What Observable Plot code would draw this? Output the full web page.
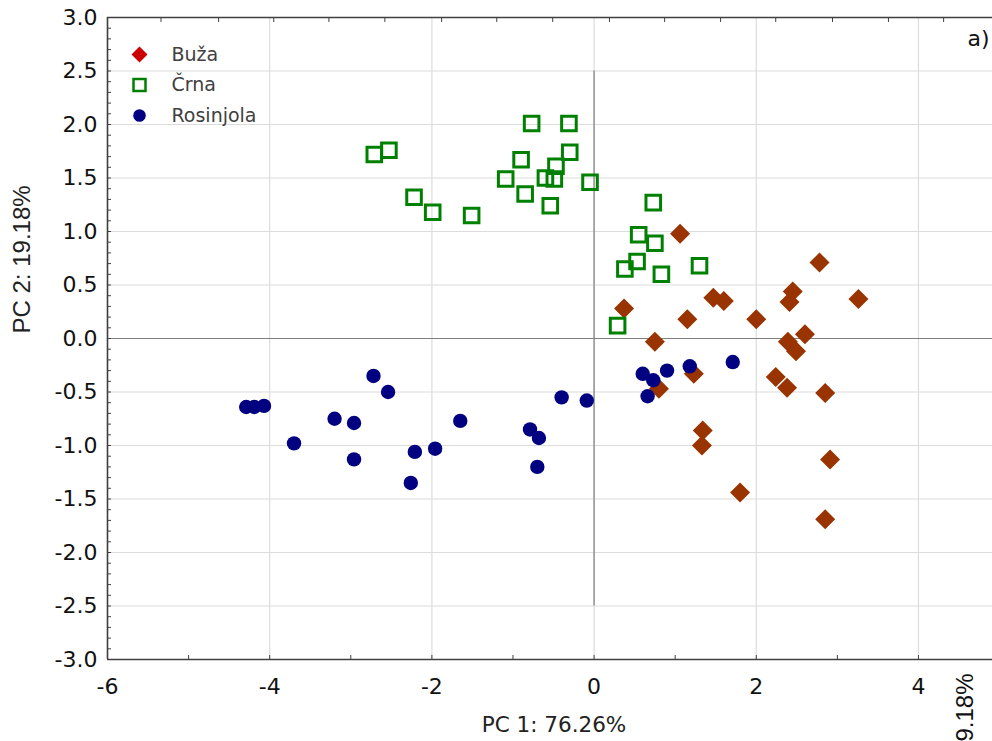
<!DOCTYPE html>
<html>
<head>
<meta charset="utf-8">
<script src="https://cdn.jsdelivr.net/npm/d3@7"></script>
<script src="https://cdn.jsdelivr.net/npm/@observablehq/plot@0.6"></script>
<style>
  html, body { margin: 0; padding: 0; background: #fff; overflow: hidden; }
  #chart svg { display: block; }
</style>
</head>
<body>
<div id="chart"></div>
<script>
// ---- data ----
const seriesNames = ["Buža", "Črna", "Rosinjola"];

const buzaPC1 = [1.06, 2.78, 2.45, 2.41, 3.26, 1.47, 1.60, 0.37, 1.15, 2.00, 0.75, 2.39,
                 2.60, 2.49, 1.23, 2.24, 2.38, 0.80, 2.85, 1.34, 1.33, 1.80, 2.91, 2.85];
const buzaPC2 = [0.98, 0.71, 0.44, 0.34, 0.37, 0.38, 0.35, 0.28, 0.18, 0.18, -0.03, -0.03,
                 0.04, -0.12, -0.33, -0.36, -0.46, -0.47, -0.51, -0.86, -1.00, -1.44, -1.13, -1.69];

const crnaPC1 = [-2.71, -2.53, -2.22, -1.99, -1.51, -1.09, -0.90, -0.85, -0.77, -0.31, -0.30, -0.47,
                 -0.60, -0.49, -0.54, -0.05, 0.73, 0.55, 0.75, 0.53, 0.38, 0.83, 1.30, 0.29];
const crnaPC2 = [1.72, 1.76, 1.32, 1.18, 1.15, 1.49, 1.67, 1.35, 2.01, 2.01, 1.74, 1.61,
                 1.50, 1.49, 1.24, 1.46, 1.27, 0.97, 0.89, 0.72, 0.65, 0.60, 0.68, 0.12];

const rosinjolaPC1 = [-4.29, -4.19, -4.07, -3.70, -3.20, -2.96, -2.96, -2.72, -2.54, -2.21, -2.26, -1.96,
                      -1.65, -0.79, -0.68, -0.70, -0.40, -0.09, 0.60, 0.73, 0.90, 1.18, 1.71, 0.66];
const rosinjolaPC2 = [-0.64, -0.64, -0.63, -0.98, -0.75, -0.79, -1.13, -0.35, -0.50, -1.06, -1.35, -1.03,
                      -0.77, -0.85, -0.93, -1.20, -0.55, -0.58, -0.33, -0.39, -0.30, -0.26, -0.22, -0.54];

const xTicks = [-6, -4, -2, 0, 2, 4];
const xMinorTicks = [-6, -5, -4, -3, -2, -1, 0, 1, 2, 3, 4];
const yTicks = [-3.0, -2.5, -2.0, -1.5, -1.0, -0.5, 0.0, 0.5, 1.0, 1.5, 2.0, 2.5, 3.0];
const topTicks = [-5.34, -4.63, -3.95, -3.27, -2.58, -1.88, -1.20, -0.51, 0.19, 0.87, 1.56, 2.24, 2.94, 3.63, 4.31];
const xDomain = [-6, 4.913];
const yDomain = [-3, 3];
const xTitle = "PC 1: 76.26%";
const yTitle = "PC 2: 19.18%";
const panelTag = "a)";
const neighbourTitle = "PC 2: 19.18%";

// ---- table built from the arrays ----
const pcs = [[buzaPC1, buzaPC2], [crnaPC1, crnaPC2], [rosinjolaPC1, rosinjolaPC2]];
const points = seriesNames.map((name, s) =>
  pcs[s][0].map((x, i) => ({series: name, pc1: x, pc2: pcs[s][1][i]}))
);

// ---- symbols ----
const diamondSym = {draw(ctx, size) {
  const r = Math.sqrt(size / Math.PI);
  ctx.moveTo(0, -r); ctx.lineTo(r, 0); ctx.lineTo(0, r); ctx.lineTo(-r, 0); ctx.closePath();
}};
const squareSym = {draw(ctx, size) {
  const r = Math.sqrt(size / Math.PI);
  ctx.rect(-r, -r, 2 * r, 2 * r);
}};
const styles = [
  {symbol: diamondSym, fill: "#993300", stroke: "none", r: 10, legendFill: "#cc0000", legendR: 8, strokeWidth: 0},
  {symbol: squareSym, fill: "none", stroke: "#008000", r: 7.3, legendR: 6, strokeWidth: 3},
  {symbol: "circle", fill: "#000080", stroke: "none", r: 7.2, legendFill: "#000080", legendR: 6.3, strokeWidth: 0}
];

const legendMarks = seriesNames.flatMap((name, i) => {
  const st = styles[i];
  return [
    Plot.dot([name], {
      frameAnchor: "top-left", dx: 32, dy: 37 + i * 30.5,
      symbol: st.symbol, r: st.legendR,
      fill: st.fill === "none" ? "none" : st.legendFill,
      stroke: st.stroke, strokeWidth: st.strokeWidth ? 2.5 : 0
    }),
    Plot.text([name], {
      frameAnchor: "top-left", dx: 64, dy: 37 + i * 30.5,
      text: d => d, textAnchor: "start", lineAnchor: "middle", fill: "#404040",
      fontFamily: "DejaVu Sans", fontSize: 19
    })
  ];
});

const chart = Plot.plot({
  width: 992,
  height: 741,
  marginTop: 17,
  marginBottom: 82,
  marginLeft: 107,
  marginRight: 0,
  x: {domain: xDomain},
  y: {domain: yDomain},
  style: {fontFamily: "DejaVu Sans", fontSize: "22px", color: "#000", background: "#fff"},
  marks: [
    Plot.gridX({ticks: xTicks, stroke: "#dcdcdc", strokeOpacity: 1, strokeWidth: 1.2}),
    Plot.gridY({ticks: yTicks, stroke: "#dcdcdc", strokeOpacity: 1, strokeWidth: 1.2}),
    Plot.ruleY([0], {stroke: "#7f7f7f", strokeWidth: 1.2}),
    Plot.ruleX([0], {y1: yTicks[1], y2: yTicks[yTicks.length - 2], stroke: "#7f7f7f", strokeWidth: 1.2}),
    // tick marks (inward)
    Plot.axisY({ticks: d3.ticks(yDomain[0], yDomain[1], 60), tickSize: -4, tickFormat: () => "", label: null, stroke: "#404040"}),
    Plot.axisX({ticks: xMinorTicks, tickSize: -4, tickFormat: () => "", label: null, stroke: "#404040"}),
    Plot.axisX({anchor: "top", ticks: topTicks, tickSize: -4, tickFormat: () => "", label: null, stroke: "#404040"}),
    // tick labels
    Plot.axisY({ticks: yTicks, tickSize: 0, tickPadding: 10, tickFormat: d => d.toFixed(1), label: null,
                fill: "#111", fontFamily: "DejaVu Sans", fontSize: 22}),
    Plot.axisX({ticks: xTicks, tickSize: 0, tickPadding: 19, tickFormat: d => String(d), label: null,
                fill: "#111", fontFamily: "DejaVu Sans", fontSize: 22}),
    // frame lines
    Plot.ruleX([xDomain[0]], {stroke: "#404040", strokeWidth: 1.6}),
    Plot.ruleY([yDomain[1]], {stroke: "#404040", strokeWidth: 1.6}),
    Plot.ruleY([yDomain[0]], {stroke: "#404040", strokeWidth: 1.6}),
    // points
    ...points.map((pts, i) => Plot.dot(pts, {
      x: "pc1", y: "pc2",
      symbol: styles[i].symbol, r: styles[i].r,
      fill: styles[i].fill, stroke: styles[i].stroke, strokeWidth: styles[i].strokeWidth
    })),
    // legend
    ...legendMarks,
    // titles
    Plot.text([xTitle], {frameAnchor: "bottom", dx: 4, dy: 66, text: d => d, lineAnchor: "middle",
                         fontFamily: "DejaVu Sans", fontSize: 21.5, fill: "#222"}),
    Plot.text([yTitle], {frameAnchor: "left", dx: -85, dy: -5, rotate: -90, text: d => d, lineAnchor: "middle",
                         fontFamily: "Liberation Sans", fontSize: 24, fill: "#222"}),
    Plot.text([panelTag], {frameAnchor: "top-right", dx: -3, dy: 21, text: d => d, textAnchor: "end", lineAnchor: "middle",
                           fontFamily: "DejaVu Sans", fontSize: 22, fill: "#111"}),
    Plot.text([neighbourTitle], {frameAnchor: "bottom-right", dx: -27, dy: 14, rotate: -90, text: d => d,
                                 textAnchor: "end", lineAnchor: "middle",
                                 fontFamily: "Liberation Sans", fontSize: 24, fill: "#111"})
  ]
});
document.getElementById("chart").appendChild(chart);
</script>
</body>
</html>
